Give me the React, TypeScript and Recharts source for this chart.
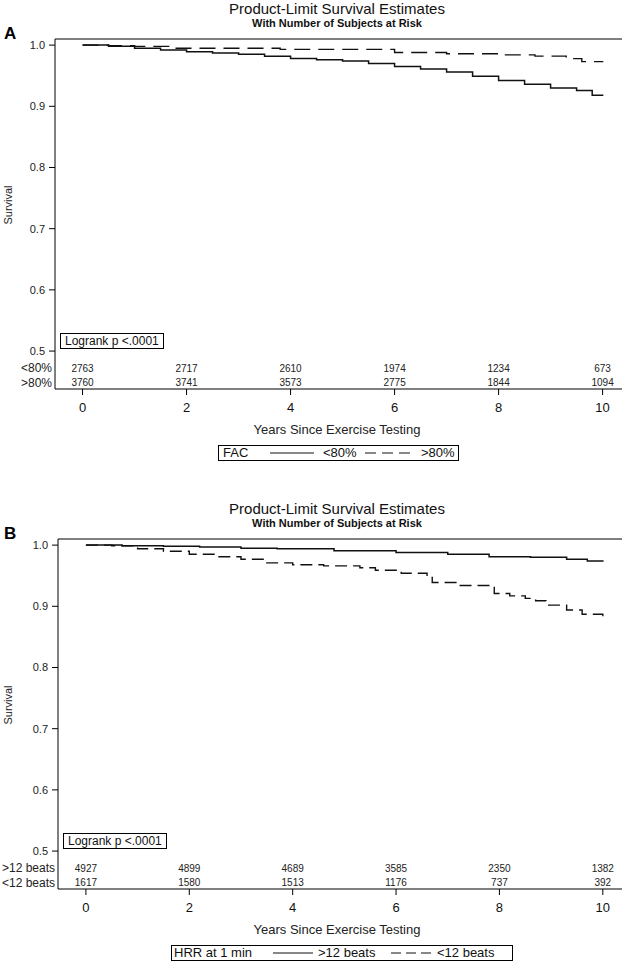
import { type FC } from 'react';
import {
  ComposedChart,
  LabelList,
  Line,
  ReferenceLine,
  Scatter,
  XAxis,
  YAxis,
} from 'recharts';

// years where the number at risk is printed
const riskYears = [0, 2, 4, 6, 8, 10];
const xTicks = [0, 2, 4, 6, 8, 10];
const yTicks = [0.5, 0.6, 0.7, 0.8, 0.9, 1.0];

// panel A - FAC
const facLowTimes = [0, 0.5, 1, 1.5, 2, 2.5, 3, 3.5, 4, 4.5, 5, 5.5, 6, 6.5, 7, 7.5, 8, 8.5, 9, 9.5, 9.8, 10];
const facLowSurv = [1.0, 0.998, 0.995, 0.992, 0.989, 0.987, 0.985, 0.982, 0.978, 0.976, 0.974, 0.97, 0.965, 0.961, 0.956, 0.949, 0.942, 0.936, 0.93, 0.926, 0.918, 0.917];
const facHighTimes = [0, 0.5, 1, 1.8, 3.8, 6.0, 7.0, 8.0, 8.7, 9.3, 9.6, 10];
const facHighSurv = [1.0, 0.999, 0.998, 0.995, 0.993, 0.988, 0.986, 0.984, 0.982, 0.978, 0.973, 0.972];
const facLowRisk = [2763, 2717, 2610, 1974, 1234, 673];
const facHighRisk = [3760, 3741, 3573, 2775, 1844, 1094];

// panel B - HRR at 1 min
const hrrHighTimes = [0, 0.7, 1.5, 2.2, 3, 3.7, 4.8, 6, 7, 7.8, 8.6, 9.3, 9.7, 10];
const hrrHighSurv = [1.0, 0.999, 0.998, 0.997, 0.995, 0.994, 0.991, 0.988, 0.985, 0.981, 0.98, 0.977, 0.974, 0.973];
const hrrLowTimes = [0, 0.5, 1, 1.5, 2, 2.5, 3, 3.5, 4, 4.6, 5.3, 5.6, 6.1, 6.6, 6.7, 7.2, 7.9, 8.2, 8.5, 8.7, 8.9, 9.3, 9.6, 10];
const hrrLowSurv = [1.0, 0.999, 0.994, 0.99, 0.985, 0.981, 0.977, 0.971, 0.968, 0.966, 0.963, 0.959, 0.954, 0.947, 0.939, 0.934, 0.921, 0.917, 0.913, 0.909, 0.902, 0.894, 0.887, 0.883];
const hrrHighRisk = [4927, 4899, 4689, 3585, 2350, 1382];
const hrrLowRisk = [1617, 1580, 1513, 1176, 737, 392];

const Y_MIN = 0.438;
const Y_MAX = 1.01;
const X_MAX = 10.7;
const ROW_Y = [0.472, 0.448];
const FONT = '"Liberation Sans", Arial, sans-serif';

type Pt = { t: number; s: number };

const toPoints = (times: number[], surv: number[]): Pt[] =>
  times.map((t, i) => ({ t, s: surv[i] }));

const toRow = (counts: number[], y: number) =>
  riskYears.map((t, i) => ({ t, y, n: counts[i] }));

type LegendPiece =
  | { kind: 'text'; x: number; label: string }
  | { kind: 'line'; x: number; w: number; dash?: string };

type PanelProps = {
  top: number;
  letter: string;
  axisX: number;
  xMin: number;
  solid: Pt[];
  dashed: Pt[];
  dash: string;
  rowLabels: string[];
  rows: number[][];
  legend: { left: number; width: number; pieces: LegendPiece[] };
};

const Panel: FC<PanelProps> = ({
  top,
  letter,
  axisX,
  xMin,
  solid,
  dashed,
  dash,
  rowLabels,
  rows,
  legend,
}) => {
  const YTick = (props: any) => {
    const { x, y, payload } = props;
    const idx = ROW_Y.indexOf(payload.value);
    if (idx >= 0) {
      return (
        <text x={x + 7} y={y} dy="0.35em" textAnchor="end" fontSize={12} fill="#222">
          {rowLabels[idx]}
        </text>
      );
    }
    return (
      <g>
        <line x1={x + 4} x2={x + 10} y1={y} y2={y} stroke="#000" />
        <text x={x} y={y} dy="0.35em" textAnchor="end" fontSize={11} fill="#222">
          {Number(payload.value).toFixed(1)}
        </text>
      </g>
    );
  };

  return (
    <div style={{ position: 'absolute', left: 0, top, width: 640, height: 470 }}>
      <ComposedChart
        width={640}
        height={440}
        margin={{ top: 39, right: 1, left: 0, bottom: 0 }}
      >
        <XAxis
          type="number"
          dataKey="t"
          domain={[xMin, X_MAX]}
          allowDataOverflow
          ticks={xTicks}
          interval={0}
          height={51}
          stroke="#000"
          tickSize={6}
          tickMargin={8}
          tick={{ fontSize: 13, fill: '#111' }}
          label={() => (
            <text x={337} y={434} textAnchor="middle" fontSize={13} fill="#222">
              Years Since Exercise Testing
            </text>
          )}
        />
        <YAxis
          type="number"
          domain={[Y_MIN, Y_MAX]}
          allowDataOverflow
          ticks={[ROW_Y[1], ROW_Y[0], ...yTicks]}
          interval={0}
          width={axisX}
          stroke="#000"
          tickLine={false}
          tickSize={6}
          tickMargin={4}
          tick={YTick}
          label={() => (
            <text
              x={12}
              y={205}
              transform="rotate(-90 12 205)"
              textAnchor="middle"
              fontSize={11}
              fill="#222"
            >
              Survival
            </text>
          )}
        />
        <ReferenceLine y={Y_MAX} stroke="#000" />
        <Line
          data={dashed}
          dataKey="s"
          type="stepAfter"
          stroke="#111"
          strokeWidth={1.4}
          strokeDasharray={dash}
          dot={false}
          isAnimationActive={false}
        />
        <Line
          data={solid}
          dataKey="s"
          type="stepAfter"
          stroke="#111"
          strokeWidth={1.5}
          dot={false}
          isAnimationActive={false}
        />
        {rows.map((counts, i) => (
          <Scatter
            key={i}
            data={toRow(counts, ROW_Y[i])}
            dataKey="y"
            shape={() => <g />}
            isAnimationActive={false}
          >
            <LabelList dataKey="n" position="center" fontSize={10} fill="#222" />
          </Scatter>
        ))}
      </ComposedChart>

      <div
        style={{
          position: 'absolute',
          left: 0,
          width: 674,
          top: 1,
          textAlign: 'center',
          fontSize: 15,
          lineHeight: '15px',
          color: '#111',
        }}
      >
        Product-Limit Survival Estimates
      </div>
      <div
        style={{
          position: 'absolute',
          left: 0,
          width: 674,
          top: 18,
          textAlign: 'center',
          fontSize: 11,
          lineHeight: '11px',
          fontWeight: 'bold',
          color: '#111',
        }}
      >
        With Number of Subjects at Risk
      </div>
      <div
        style={{
          position: 'absolute',
          left: 4,
          top: 25,
          fontSize: 17,
          lineHeight: '17px',
          fontWeight: 'bold',
          color: '#000',
        }}
      >
        {letter}
      </div>

      <div
        style={{
          position: 'absolute',
          left: axisX + 5,
          top: 333,
          height: 16,
          border: '1px solid #000',
          boxSizing: 'border-box',
          padding: '0 4px',
          fontSize: 12,
          lineHeight: '14px',
          color: '#111',
          background: '#fff',
        }}
      >
        Logrank p &lt;.0001
      </div>

      <div
        style={{
          position: 'absolute',
          left: legend.left,
          top: 445,
          width: legend.width,
          height: 16,
          border: '1px solid #000',
          boxSizing: 'border-box',
          fontSize: 13,
          lineHeight: '14px',
          color: '#111',
        }}
      >
        {legend.pieces.map((p, i) =>
          p.kind === 'text' ? (
            <span key={i} style={{ position: 'absolute', left: p.x, top: 0, whiteSpace: 'nowrap' }}>
              {p.label}
            </span>
          ) : (
            <svg
              key={i}
              width={p.w}
              height={14}
              style={{ position: 'absolute', left: p.x, top: 0 }}
            >
              <line
                x1={0}
                x2={p.w}
                y1={7}
                y2={7}
                stroke="#111"
                strokeWidth={1.2}
                strokeDasharray={p.dash}
              />
            </svg>
          ),
        )}
      </div>
    </div>
  );
};

const App: FC = () => {
  return (
    <div
      style={{
        position: 'absolute',
        left: 0,
        top: 0,
        width: 622,
        height: 961,
        overflow: 'hidden',
        background: '#fff',
        fontFamily: FONT,
      }}
    >
      <Panel
        top={0}
        letter="A"
        axisX={55}
        xMin={-0.53}
        solid={toPoints(facLowTimes, facLowSurv)}
        dashed={toPoints(facHighTimes, facHighSurv)}
        dash="16 8"
        rowLabels={['<80%', '>80%']}
        rows={[facLowRisk, facHighRisk]}
        legend={{
          left: 218,
          width: 241,
          pieces: [
            { kind: 'text', x: 4, label: 'FAC' },
            { kind: 'line', x: 51, w: 44 },
            { kind: 'text', x: 104, label: '<80%' },
            { kind: 'line', x: 146, w: 45, dash: '11 6' },
            { kind: 'text', x: 202, label: '>80%' },
          ],
        }}
      />
      <Panel
        top={500}
        letter="B"
        axisX={58}
        xMin={-0.54}
        solid={toPoints(hrrHighTimes, hrrHighSurv)}
        dashed={toPoints(hrrLowTimes, hrrLowSurv)}
        dash="12 6"
        rowLabels={['>12 beats', '<12 beats']}
        rows={[hrrHighRisk, hrrLowRisk]}
        legend={{
          left: 171,
          width: 342,
          pieces: [
            { kind: 'text', x: 2, label: 'HRR at 1 min' },
            { kind: 'line', x: 101, w: 40 },
            { kind: 'text', x: 146, label: '>12 beats' },
            { kind: 'line', x: 219, w: 40, dash: '10 5' },
            { kind: 'text', x: 265, label: '<12 beats' },
          ],
        }}
      />
    </div>
  );
};

export default App;
